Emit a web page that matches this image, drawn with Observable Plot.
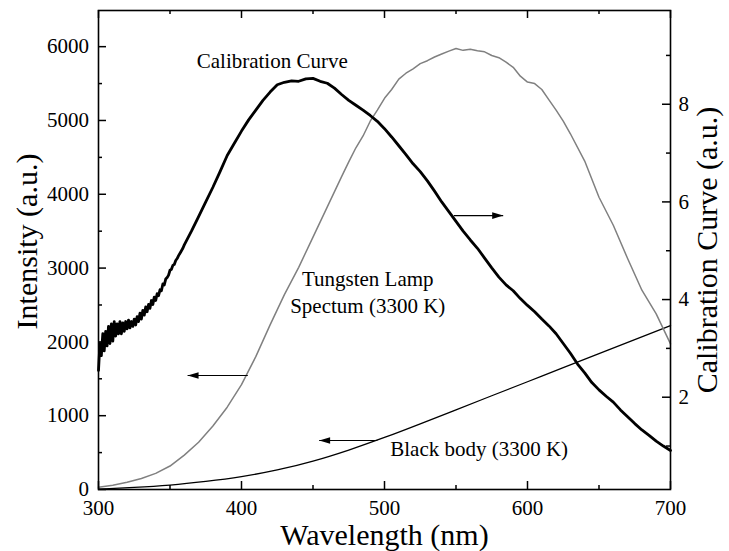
<!DOCTYPE html>
<html>
<head>
<meta charset="utf-8">
<script src="https://cdn.jsdelivr.net/npm/d3@7"></script>
<script src="https://cdn.jsdelivr.net/npm/@observablehq/plot@0.6"></script>
<style>
  html, body { margin: 0; padding: 0; background: #fff; }
</style>
</head>
<body>
<div id="chart"></div>
<script>
// ---------------- data ----------------
// Calibration curve (right axis, a.u.): 300–360 nm every 1 nm, then 365–700 nm every 5 nm
const calWavelengths = d3.range(300, 361, 1).concat(d3.range(365, 701, 5));
const calValues = [
  2.55, 3.10, 2.85, 3.30, 2.95, 3.35, 3.05, 3.45, 3.10, 3.50,
  3.15, 3.55, 3.25, 3.50, 3.30, 3.55, 3.30, 3.52, 3.35, 3.55,
  3.40, 3.58, 3.42, 3.55, 3.45, 3.60, 3.48, 3.65, 3.55, 3.72,
  3.60, 3.78, 3.68, 3.85, 3.75, 3.90, 3.82, 3.98, 3.90, 4.05,
  3.98, 4.12, 4.08, 4.20, 4.18, 4.32, 4.30, 4.42, 4.45, 4.50,
  4.60, 4.62, 4.70, 4.72, 4.80, 4.84, 4.90, 4.95, 5.00, 5.05,
  5.12,
  5.40, 5.70, 6.00, 6.30, 6.62, 6.95, 7.20, 7.45, 7.68, 7.88,
  8.08, 8.25, 8.40, 8.45, 8.48, 8.47, 8.52, 8.53, 8.47, 8.43,
  8.33, 8.20, 8.08, 7.98, 7.88, 7.77, 7.65, 7.50, 7.33, 7.15,
  6.97, 6.78, 6.62, 6.43, 6.22, 6.00, 5.80, 5.60, 5.40, 5.22,
  5.05, 4.85, 4.65, 4.46, 4.30, 4.18, 4.02, 3.88, 3.75, 3.60,
  3.46, 3.30, 3.10, 2.90, 2.68, 2.50, 2.30, 2.15, 2.02, 1.90,
  1.74, 1.60, 1.46, 1.33, 1.22, 1.10, 1.00, 0.91
];

// Tungsten lamp spectrum (left axis, intensity a.u.)
const tungWavelengths = [300, 310, 320, 330, 340, 350, 360, 370, 380, 390, 400, 410, 420, 430, 440, 450, 460, 470,
  475, 480, 485, 490, 495, 500, 505, 510, 515, 520, 525, 530, 535, 540, 545, 550, 555, 560, 565, 570, 575, 580,
  585, 590, 595, 600, 605, 610, 615, 620, 625, 630, 640, 650, 660, 670, 680, 690, 700];
const tungValues = [31, 58, 98, 150, 218, 318, 465, 640, 860, 1115, 1420, 1800, 2230, 2640, 3010, 3420, 3830, 4240,
  4440, 4630, 4790, 4990, 5140, 5300, 5420, 5560, 5640, 5700, 5770, 5810, 5860, 5900, 5940, 5975, 5950, 5965, 5945, 5930, 5880, 5850,
  5790, 5720, 5600, 5520, 5500, 5420, 5280, 5140, 4990, 4820, 4450, 3960, 3580, 3130, 2700, 2380, 1973];

// Black body 3300 K (left axis)
const bbWavelengths = [300, 325, 350, 375, 400, 425, 450, 475, 500, 525, 550, 575, 600, 625, 650, 675, 700];
const bbValues = [5, 28, 60, 110, 175, 265, 385, 535, 705, 890, 1080, 1270, 1460, 1650, 1840, 2030, 2221];

// tick values
const xMajor = [300, 400, 500, 600, 700];
const xMinor = [350, 450, 550, 650];
const yMajor = [0, 1000, 2000, 3000, 4000, 5000, 6000];
const yMinor = [500, 1500, 2500, 3500, 4500, 5500];
const calMajor = [2, 4, 6, 8];
const calMinor = [1, 3, 5, 7, 9];

// annotation texts
const labelCal = "Calibration Curve";
const labelTung1 = "Tungsten Lamp";
const labelTung2 = "Spectum (3300 K)";
const labelBB = "Black body (3300 K)";
const titleX = "Wavelength (nm)";
const titleY = "Intensity (a.u.)";
const titleY2 = "Calibration Curve (a.u.)";

// ---------------- layout ----------------
const W = 729, H = 551;
const mL = 98, mR = 59, mT = 10, mB = 62;
const FW = W - mL - mR, FH = H - mT - mB;
const yDomain = [0, 6490];
const calDomain = [0.11, 9.92];
const toLeft = r => (r - calDomain[0]) / (calDomain[1] - calDomain[0]) * (yDomain[1] - yDomain[0]) + yDomain[0];

const cal = calWavelengths.map((w, i) => ({w, v: toLeft(calValues[i])}));
const tung = tungWavelengths.map((w, i) => ({w, v: tungValues[i]}));
const bb = bbWavelengths.map((w, i) => ({w, v: bbValues[i]}));

// annotations (data space)
const centeredTexts = [
  {x: 421.5, y: 5802, t: labelCal},
  {x: 488.3, y: 2850, t: labelTung1},
  {x: 488.3, y: 2488, t: labelTung2}
];
const startTexts = [
  {x: 504.0, y: 547, t: labelBB}
];
const arrows = [
  {x1: 548.5, x2: 583.0, y: 3711, rot: 90},
  {x1: 404.4, x2: 362.3, y: 1544, rot: -90},
  {x1: 495.0, x2: 454.3, y: 664, rot: -90}
];
const headSymbol = {
  draw(ctx) { ctx.moveTo(0, 0); ctx.lineTo(-3.3, 11); ctx.lineTo(3.3, 11); ctx.closePath(); }
};

const font = "'Liberation Serif', 'Times New Roman', Times, serif";
const fs = 21;

const chart = Plot.plot({
  width: W, height: H,
  marginLeft: mL, marginRight: mR, marginTop: mT, marginBottom: mB,
  style: {fontFamily: font, fontSize: fs + "px", background: "#fff", color: "#000"},
  x: {domain: [300, 700]},
  y: {domain: yDomain},
  marks: [
    Plot.line(bb, {x: "w", y: "v", stroke: "#000", strokeWidth: 1.3, curve: "natural"}),
    Plot.line(tung, {x: "w", y: "v", stroke: "#808080", strokeWidth: 1.5}),
    Plot.line(cal, {x: "w", y: "v", stroke: "#000", strokeWidth: 2.8, strokeLinejoin: "round"}),
    Plot.frame({stroke: "#000", strokeWidth: 1.6}),
    // inward ticks
    Plot.tickY(yMajor, {y: d => d, insetRight: FW - 8, strokeWidth: 1.5}),
    Plot.tickY(yMinor, {y: d => d, insetRight: FW - 4, strokeWidth: 1.5}),
    Plot.tickY(calMajor, {y: d => toLeft(d), insetLeft: FW - 8, strokeWidth: 1.5}),
    Plot.tickY(calMinor, {y: d => toLeft(d), insetLeft: FW - 4, strokeWidth: 1.5}),
    Plot.tickX(xMajor, {x: d => d, insetTop: FH - 8, strokeWidth: 1.5}),
    Plot.tickX(xMinor, {x: d => d, insetTop: FH - 4, strokeWidth: 1.5}),
    Plot.tickX(xMajor, {x: d => d, insetBottom: FH - 8, strokeWidth: 1.5}),
    Plot.tickX(xMinor, {x: d => d, insetBottom: FH - 4, strokeWidth: 1.5}),
    // tick labels
    Plot.axisX(xMajor, {tickSize: 0, tickPadding: 11, fontSize: fs, label: null, tickFormat: d => String(d)}),
    Plot.axisY(yMajor, {tickSize: 0, tickPadding: 9.5, fontSize: fs, label: null, tickFormat: d => String(d)}),
    Plot.text(calMajor, {y: d => toLeft(d), text: d => String(d), frameAnchor: "right", textAnchor: "start", lineAnchor: "middle", dx: 8, fontSize: fs}),
    // axis titles
    Plot.text([titleX], {frameAnchor: "bottom", textAnchor: "middle", lineAnchor: "middle", dy: 46, fontSize: 30}),
    Plot.text([titleY], {frameAnchor: "left", textAnchor: "middle", lineAnchor: "middle", dx: 27 - mL, dy: -8.5, rotate: -90, fontSize: 30}),
    Plot.text([titleY2], {frameAnchor: "right", textAnchor: "middle", lineAnchor: "middle", dx: 37, dy: 0, rotate: -90, fontSize: 30}),
    // annotations
    Plot.text(centeredTexts, {x: "x", y: "y", text: "t", textAnchor: "middle", lineAnchor: "middle", fontSize: fs}),
    Plot.text(startTexts, {x: "x", y: "y", text: "t", textAnchor: "start", lineAnchor: "middle", fontSize: fs}),
    Plot.link(arrows, {x1: "x1", x2: "x2", y1: "y", y2: "y", stroke: "#000", strokeWidth: 1.1}),
    Plot.dot(arrows, {x: "x2", y: "y", rotate: "rot", symbol: headSymbol, fill: "#000", stroke: "none"})
  ]
});
document.getElementById("chart").appendChild(chart);
</script>
</body>
</html>
